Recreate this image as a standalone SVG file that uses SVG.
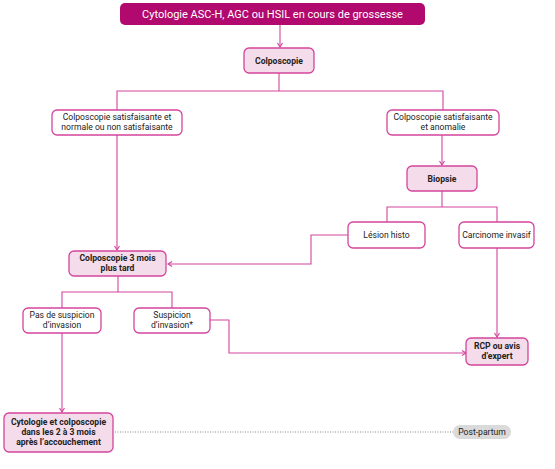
<svg xmlns="http://www.w3.org/2000/svg" width="555" height="469" viewBox="0 0 555 469">
<defs>
<style>
.w{fill:#fff;stroke:#D4449C;stroke-width:1.3}
.p{fill:#F4DCEB;stroke:#D4449C;stroke-width:1.3}
.t{font-family:Roboto,"Liberation Sans",sans-serif;font-size:8.6px;fill:#222;text-anchor:middle}
.b{font-weight:bold}
.c{fill:none;stroke:#D4449C;stroke-width:1.1}
</style>
<marker id="a" markerWidth="8" markerHeight="8" refX="5" refY="3" orient="auto" markerUnits="userSpaceOnUse">
<polyline points="1,0.5 5,3 1,5.5" fill="none" stroke="#D4449C" stroke-width="1.1"/>
</marker>
</defs>
<rect width="555" height="469" fill="#fff"/>
<g id="connectors">
<line class="c" x1="280" y1="25" x2="280" y2="47" marker-end="url(#a)"/>
<polyline class="c" points="279,73 279,91"/>
<polyline class="c" points="117,110 117,91 443,91 443,110"/>
<line class="c" x1="117" y1="135" x2="117" y2="250" marker-end="url(#a)"/>
<line class="c" x1="442" y1="135" x2="442" y2="165" marker-end="url(#a)"/>
<polyline class="c" points="442,191 442,207"/>
<polyline class="c" points="387,222 387,207 497,207 497,222"/>
<polyline class="c" points="348,235 311,235 311,264 168,264" marker-end="url(#a)"/>
<line class="c" x1="497" y1="248" x2="497" y2="337" marker-end="url(#a)"/>
<polyline class="c" points="118,276 118,292"/>
<polyline class="c" points="62,308 62,292 172,292 172,308"/>
<polyline class="c" points="210,320 229,320 229,353 466,353" marker-end="url(#a)"/>
<line class="c" x1="62" y1="333" x2="62" y2="412" marker-end="url(#a)"/>
<line x1="115" y1="432" x2="453" y2="432" stroke="#888" stroke-width="1" stroke-dasharray="1,1.5"/>
</g>
<g id="top">
<rect x="120" y="3" width="305" height="22" rx="5" fill="#B1096D"/>
<text x="272.5" y="18" font-family="Roboto,'Liberation Sans',sans-serif" font-size="11px" fill="#fff" text-anchor="middle">Cytologie ASC-H, AGC ou HSIL en cours de grossesse</text>
</g>
<g id="colposcopie">
<rect class="p" x="244" y="48" width="70" height="25" rx="5"/>
<text class="t b" x="279" y="63.5">Colposcopie</text>
</g>
<g id="satisf-normale">
<rect class="w" x="52" y="110" width="130" height="25" rx="5"/>
<text class="t" x="117" y="120">Colposcopie satisfaisante et</text>
<text class="t" x="117" y="130">normale ou non satisfaisante</text>
</g>
<g id="satisf-anomalie">
<rect class="w" x="387" y="110" width="112" height="25" rx="5"/>
<text class="t" x="443" y="120">Colposcopie satisfaisante</text>
<text class="t" x="443" y="130">et anomalie</text>
</g>
<g id="biopsie">
<rect class="p" x="407" y="166" width="70" height="25" rx="5"/>
<text class="t b" x="442" y="181.5">Biopsie</text>
</g>
<g id="lesion">
<rect class="w" x="348" y="222" width="77" height="26" rx="5"/>
<text class="t" x="386.5" y="238">Lésion histo</text>
</g>
<g id="carcinome">
<rect class="w" x="459" y="222" width="75" height="26" rx="5"/>
<text class="t" x="496.5" y="238">Carcinome invasif</text>
</g>
<g id="colpo3mois">
<rect class="p" x="69" y="251" width="97" height="25" rx="5"/>
<text class="t b" x="117.5" y="261">Colposcopie 3 mois</text>
<text class="t b" x="117.5" y="271">plus tard</text>
</g>
<g id="pas-suspicion">
<rect class="w" x="23" y="308" width="78" height="25" rx="5"/>
<text class="t" x="62" y="318">Pas de suspicion</text>
<text class="t" x="62" y="328">d’invasion</text>
</g>
<g id="suspicion">
<rect class="w" x="134" y="308" width="76" height="25" rx="5"/>
<text class="t" x="172" y="318">Suspicion</text>
<text class="t" x="172" y="328">d’invasion*</text>
</g>
<g id="rcp">
<rect class="p" x="466" y="338" width="62" height="27" rx="5"/>
<text class="t b" x="497" y="349">RCP ou avis</text>
<text class="t b" x="497" y="359">d’expert</text>
</g>
<g id="cytologie-post">
<rect class="p" x="4" y="413" width="109" height="39" rx="5"/>
<text class="t b" x="58.5" y="425">Cytologie et colposcopie</text>
<text class="t b" x="58.5" y="435">dans les 2 à 3 mois</text>
<text class="t b" x="58.5" y="445">après l’accouchement</text>
</g>
<g id="post-partum">
<rect x="453" y="425" width="58" height="14" rx="7" fill="#DADADA"/>
<text class="t" x="482" y="435">Post-partum</text>
</g>
</svg>
